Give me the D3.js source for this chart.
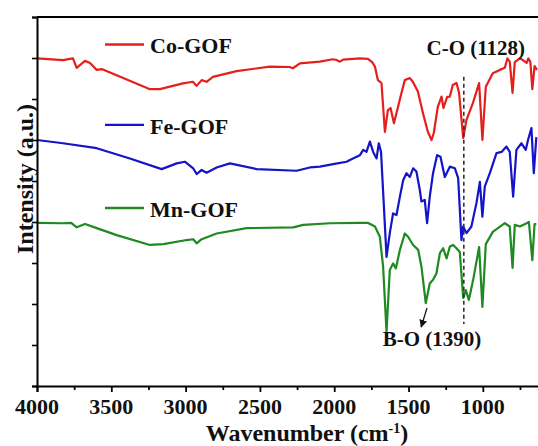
<!DOCTYPE html>
<html>
<head>
<meta charset="utf-8">
<script src="https://cdn.jsdelivr.net/npm/d3@7"></script>
<style>
  body { margin: 0; background: #fff; }
  svg { display: block; }
  text { font-family: "Liberation Serif", "Times New Roman", serif; font-weight: bold; fill: #111; }
</style>
</head>
<body>
<div id="wrapper"></div>
<script>
// spectra: [wavenumber, intensity (a.u.)]
const coGOF = [
  [4000,79.9],[3825,79.5],[3758,79.9],[3733,77.6],[3677,79.3],[3643,78.8],[3598,77.1],[3565,77.3],
  [3420,75.1],[3240,72.4],[3173,72.4],[3018,73.8],[2951,74.2],[2926,73.2],[2892,74.6],[2859,74.2],
  [2816,75.4],[2657,76.8],[2433,77.9],[2300,77.8],[2278,77.5],[2231,78.7],[2097,79.1],[2009,79.7],
  [1984,79.5],[1962,79.1],[1940,79.6],[1827,79.9],[1773,79.8],[1745,79.0],[1726,77.9],[1706,74.6],
  [1682,73.9],[1659,62.0],[1639,67.3],[1621,67.8],[1598,64.1],[1581,66.6],[1547,71.5],[1525,74.6],
  [1491,75.1],[1471,74.2],[1437,71.8],[1403,66.6],[1370,62.0],[1345,60.0],[1330,61.7],[1303,68.1],
  [1278,70.6],[1265,67.8],[1240,70.5],[1222,70.6],[1202,73.4],[1177,73.9],[1160,71.5],[1132,60.5],
  [1110,64.9],[1067,69.0],[1025,73.9],[1003,60.0],[980,73.0],[933,76.3],[886,77.1],[852,77.6],
  [835,79.9],[819,79.1],[800,71.5],[785,79.0],[751,79.9],[731,79.5],[705,78.8],[694,79.9],
  [680,79.0],[667,72.4],[652,78.0],[635,77.1]
];
const feGOF = [
  [4000,60.0],[3825,59.2],[3598,58.0],[3375,55.5],[3161,52.9],[3060,54.3],[3005,54.7],[2949,53.1],
  [2926,51.7],[2892,52.7],[2859,52.0],[2791,53.3],[2702,54.3],[2522,52.9],[2253,52.5],[2164,53.3],
  [2097,53.5],[2007,54.1],[1917,54.7],[1874,55.5],[1827,56.3],[1805,57.6],[1783,57.1],[1760,59.6],
  [1738,57.1],[1715,55.5],[1700,59.2],[1685,57.1],[1648,31.5],[1626,37.3],[1604,42.1],[1581,41.7],
  [1558,46.2],[1536,50.2],[1514,51.9],[1491,51.0],[1469,53.1],[1447,52.3],[1424,47.8],[1413,45.0],
  [1391,45.4],[1375,39.7],[1357,46.2],[1335,51.9],[1308,56.3],[1285,55.9],[1256,51.0],[1222,53.5],
  [1188,53.1],[1166,50.7],[1144,35.6],[1133,38.9],[1110,37.3],[1077,38.9],[1043,44.6],[1020,49.8],
  [1003,41.3],[987,48.6],[953,51.9],[908,56.8],[874,57.1],[841,58.4],[819,57.1],[796,46.2],
  [774,57.6],[740,59.2],[711,57.6],[696,60.0],[673,62.9],[657,51.9],[640,60.7]
];
const mnGOF = [
  [4000,39.8],[3825,39.7],[3770,39.8],[3733,38.7],[3677,39.5],[3598,38.5],[3464,36.8],[3240,34.4],
  [3150,34.6],[2993,35.6],[2949,35.8],[2926,34.8],[2892,35.8],[2791,37.2],[2590,38.5],[2276,38.7],
  [2209,39.3],[2029,39.7],[1827,39.8],[1775,39.8],[1726,38.9],[1693,36.4],[1671,29.1],[1648,13.2],
  [1626,28.3],[1604,29.9],[1585,28.7],[1558,33.2],[1525,37.2],[1503,36.4],[1469,34.4],[1435,33.2],
  [1413,29.1],[1384,20.2],[1357,25.0],[1335,25.9],[1312,27.5],[1289,32.4],[1267,33.6],[1244,31.1],
  [1222,34.0],[1200,34.4],[1177,33.6],[1155,32.7],[1132,21.5],[1115,23.4],[1094,21.0],[1063,26.3],
  [1025,33.9],[1003,19.3],[980,34.6],[933,37.6],[852,39.7],[819,38.9],[800,28.8],[785,39.3],
  [751,38.9],[705,39.7],[690,40.0],[667,30.7],[652,39.5],[640,39.5]
];

const seriesNames = ["Co-GOF", "Fe-GOF", "Mn-GOF"];
const seriesColors = ["#e3201c", "#1414c8", "#1f8a1f"];
const legendLevels = [83.3, 63.7, 43.4];
const xTicks = [4000, 3500, 3000, 2500, 2000, 1500, 1000];
const coPeak = 1128;
const boPeak = 1390;

function drawChart() {
  // 1. dimensions
  const dimensions = {
    width: 538,
    height: 446,
    margin: { top: 17, left: 37, bottom: 60 },
  }
  const axisY = dimensions.height - dimensions.margin.bottom

  // 2. canvas
  const wrapper = d3.select("#wrapper")
    .append("svg")
      .attr("width", dimensions.width)
      .attr("height", dimensions.height)

  // 3. scales (x runs past the right edge, the plot is cut off there)
  const xScale = d3.scaleLinear()
    .domain([4000, 400])
    .range([dimensions.margin.left, 572])

  const yScale = d3.scaleLinear()
    .domain([0, 90])
    .range([axisY, dimensions.margin.top])

  const xAccessor = d => d[0]
  const yAccessor = d => d[1]

  const lineGenerator = d3.line()
    .x(d => xScale(xAccessor(d)))
    .y(d => yScale(yAccessor(d)))

  // 4. data
  const allSeries = [coGOF, feGOF, mnGOF]
  allSeries.forEach((data, i) => {
    wrapper.append("path")
      .attr("d", lineGenerator(data))
      .attr("fill", "none")
      .attr("stroke", seriesColors[i])
      .attr("stroke-width", 2.2)
      .attr("stroke-linejoin", "round")
  })

  // dashed marker at C-O
  wrapper.append("line")
    .attr("x1", xScale(coPeak)).attr("x2", xScale(coPeak))
    .attr("y1", yScale(75.4)).attr("y2", yScale(15.1))
    .attr("stroke", "#333")
    .attr("stroke-width", 1.6)
    .attr("stroke-dasharray", "4,3")

  // 5. axes
  const xAxis = wrapper.append("g")
    .attr("transform", `translate(0, ${axisY})`)
    .call(d3.axisBottom(xScale).tickValues(d3.range(4000, 499, -250)).tickSize(6).tickFormat(""))
  xAxis.selectAll(".tick line")
    .attr("y2", d => d % 500 === 0 ? 6 : 4)
    .attr("stroke-width", 1.8)
  xAxis.select(".domain").attr("stroke-width", 2)

  xAxis.selectAll(".xlabel")
    .data(xTicks)
    .enter().append("text")
      .attr("x", d => xScale(d))
      .attr("y", 28)
      .attr("text-anchor", "middle")
      .style("font-size", "22px")
      .text(d => d)

  const yAxis = wrapper.append("g")
    .attr("transform", `translate(${dimensions.margin.left}, 0)`)
    .call(d3.axisLeft(yScale).tickValues(d3.range(0, 91, 10)).tickSize(5).tickFormat(""))
  yAxis.select(".domain").attr("stroke-width", 2)
  yAxis.selectAll(".tick line").attr("stroke-width", 1.6)

  // top frame
  wrapper.append("line")
    .attr("x1", dimensions.margin.left).attr("x2", dimensions.width)
    .attr("y1", dimensions.margin.top).attr("y2", dimensions.margin.top)
    .attr("stroke", "#000")
    .attr("stroke-width", 2)

  // axis titles
  const xTitle = wrapper.append("text")
    .attr("x", 307)
    .attr("y", 441)
    .attr("text-anchor", "middle")
    .style("font-size", "24px")
  xTitle.append("tspan").text("Wavenumber (cm")
  xTitle.append("tspan").attr("dy", -8).style("font-size", "14px").text("-1")
  xTitle.append("tspan").attr("dy", 8).text(")")

  wrapper.append("text")
    .attr("transform", `translate(33, 179) rotate(-90)`)
    .attr("text-anchor", "middle")
    .style("font-size", "24px")
    .text("Intensity (a.u.)")

  // 6. legend
  seriesNames.forEach((name, i) => {
    const ly = yScale(legendLevels[i])
    wrapper.append("line")
      .attr("x1", 105).attr("x2", 144)
      .attr("y1", ly).attr("y2", ly)
      .attr("stroke", seriesColors[i])
      .attr("stroke-width", 2.4)
    wrapper.append("text")
      .attr("x", 150)
      .attr("y", ly + 9)
      .style("font-size", "22px")
      .text(name)
  })

  // 7. annotations
  wrapper.append("text")
    .attr("x", xScale(coPeak) + 12)
    .attr("y", 55)
    .attr("text-anchor", "middle")
    .style("font-size", "21px")
    .text(`C-O (${coPeak})`)

  wrapper.append("text")
    .attr("x", 432)
    .attr("y", 346)
    .attr("text-anchor", "middle")
    .style("font-size", "21px")
    .text(`B-O (${boPeak})`)

  wrapper.append("defs").append("marker")
    .attr("id", "arrow")
    .attr("viewBox", "0 0 10 10")
    .attr("refX", 9).attr("refY", 5)
    .attr("markerWidth", 6).attr("markerHeight", 6)
    .attr("orient", "auto")
    .append("path")
      .attr("d", "M0,0 L10,5 L0,10 z")
      .attr("fill", "#111")

  wrapper.append("line")
    .attr("x1", xScale(1376)).attr("y1", yScale(19))
    .attr("x2", xScale(1415)).attr("y2", yScale(14.4))
    .attr("stroke", "#111")
    .attr("stroke-width", 1.3)
    .attr("marker-end", "url(#arrow)")
}

drawChart()
</script>
</body>
</html>
